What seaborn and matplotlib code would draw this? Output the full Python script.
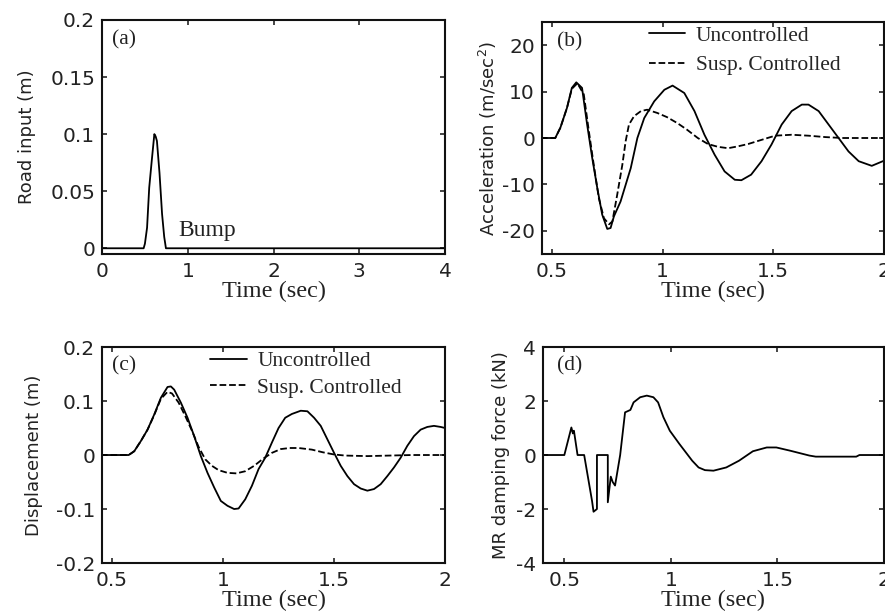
import numpy as np
import pandas as pd
import matplotlib
matplotlib.use('Agg')
import matplotlib.pyplot as plt
import seaborn as sns

# --- data ---
# (a) road bump input
t_road = [0.0, 0.485, 0.50, 0.525, 0.55, 0.58, 0.61, 0.625, 0.64, 0.67, 0.70, 0.725, 0.745, 4.0]
z_road = [0, 0, 0.004, 0.018, 0.053, 0.077, 0.1, 0.098, 0.094, 0.066, 0.03, 0.01, 0, 0]

# (b) body acceleration
t_acc_unc = [0.45, 0.515, 0.538, 0.568, 0.59, 0.61, 0.636, 0.659, 0.682, 0.705, 0.727, 0.75, 0.765,
             0.78, 0.81, 0.856, 0.886, 0.917, 0.962, 1.008, 1.045, 1.098, 1.144, 1.189, 1.235, 1.28,
             1.326, 1.356, 1.40, 1.447, 1.492, 1.538, 1.583, 1.629, 1.659, 1.705, 1.75, 1.795, 1.84,
             1.886, 1.945, 2.0]
acc_unc = [0, 0, 2.2, 6.5, 10.8, 12.0, 10.8, 2.9, -4.3, -10.8, -16.5, -19.6, -19.4,
           -16.9, -13.7, -6.5, 0, 4.3, 7.9, 10.4, 11.3, 9.7, 5.8, 0.7, -3.6, -7.2,
           -9.0, -9.1, -7.9, -5.0, -1.4, 2.9, 5.8, 7.2, 7.2, 5.8, 2.9, 0, -2.9,
           -5.0, -6.0, -4.9]
t_acc_ctl = [0.45, 0.515, 0.538, 0.568, 0.59, 0.615, 0.644, 0.667, 0.689, 0.712, 0.735, 0.758, 0.773,
             0.795, 0.818, 0.833, 0.848, 0.871, 0.902, 0.93, 0.976, 1.02, 1.067, 1.11, 1.159, 1.205,
             1.25, 1.296, 1.34, 1.386, 1.447, 1.508, 1.583, 1.659, 1.735, 1.811, 2.0]
acc_ctl = [0, 0, 2.2, 6.5, 10.6, 11.8, 9.4, 1.4, -5.8, -13.0, -17.3, -18.6, -18.0,
           -12.2, -5.8, -0.7, 2.9, 4.7, 5.8, 6.1, 5.4, 4.5, 3.2, 1.8, 0, -1.3,
           -1.9, -2.2, -1.8, -1.3, -0.4, 0.5, 0.7, 0.5, 0.2, 0, 0]

# (c) body displacement
t_dis_unc = [0.45, 0.575, 0.60, 0.63, 0.66, 0.69, 0.72, 0.75, 0.765, 0.78, 0.81, 0.84, 0.87, 0.90,
             0.93, 0.96, 0.99, 1.02, 1.05, 1.07, 1.10, 1.13, 1.16, 1.19, 1.22, 1.25, 1.28, 1.31,
             1.35, 1.38, 1.41, 1.44, 1.47, 1.50, 1.53, 1.56, 1.59, 1.62, 1.65, 1.68, 1.71, 1.74,
             1.77, 1.80, 1.83, 1.86, 1.89, 1.92, 1.95, 1.98, 2.0]
dis_unc = [0, 0, 0.007, 0.026, 0.047, 0.075, 0.106, 0.126, 0.127, 0.121, 0.097, 0.069, 0.035, -0.002,
           -0.033, -0.06, -0.085, -0.094, -0.1, -0.099, -0.082, -0.057, -0.026, -0.005, 0.023, 0.05, 0.069, 0.076,
           0.082, 0.081, 0.069, 0.054, 0.029, 0.004, -0.02, -0.039, -0.054, -0.062, -0.066, -0.063, -0.054, -0.039,
           -0.023, -0.005, 0.017, 0.035, 0.047, 0.052, 0.054, 0.052, 0.05]
t_dis_ctl = [0.45, 0.575, 0.60, 0.63, 0.66, 0.69, 0.72, 0.75, 0.77, 0.80, 0.83, 0.86, 0.89, 0.92,
             0.95, 0.98, 1.02, 1.06, 1.10, 1.14, 1.18, 1.22, 1.26, 1.30, 1.34, 1.40, 1.45, 1.50,
             1.55, 1.65, 1.75, 1.85, 2.0]
dis_ctl = [0, 0, 0.007, 0.026, 0.047, 0.074, 0.104, 0.117, 0.114, 0.097, 0.072, 0.045, 0.015, -0.008,
           -0.02, -0.028, -0.033, -0.034, -0.03, -0.02, -0.007, 0.004, 0.011, 0.013, 0.013, 0.01, 0.005, 0.001,
           -0.001, -0.002, -0.001, 0, 0]

# (d) MR damper force
t_force = [0.40, 0.50, 0.533, 0.54, 0.545, 0.562, 0.593, 0.63, 0.637, 0.653, 0.653, 0.704, 0.704,
           0.718, 0.727, 0.738, 0.762, 0.785, 0.81, 0.825, 0.856, 0.887, 0.918, 0.94, 0.965, 0.995,
           1.04, 1.07, 1.10, 1.13, 1.16, 1.20, 1.26, 1.32, 1.385, 1.45, 1.495, 1.56, 1.65, 1.68,
           1.87, 1.885, 2.0]
force = [0, 0, 1.02, 0.8, 0.9, 0, 0, -1.7, -2.1, -2.0, 0, 0, -1.75,
         -0.8, -1.0, -1.13, 0, 1.58, 1.67, 1.95, 2.14, 2.2, 2.14, 1.95, 1.4, 0.9,
         0.41, 0.1, -0.21, -0.46, -0.56, -0.58, -0.46, -0.21, 0.14, 0.28, 0.28, 0.16, -0.02, -0.06,
         -0.06, 0, 0]

legend_labels = ['Uncontrolled', 'Susp. Controlled']

# --- style ---
sns.set_style('ticks')
plt.rcParams['font.family'] = ['DejaVu Sans']
plt.rcParams['axes.unicode_minus'] = False
plt.rcParams['xtick.direction'] = 'in'
plt.rcParams['ytick.direction'] = 'in'
plt.rcParams['xtick.top'] = True
plt.rcParams['ytick.right'] = True
plt.rcParams['axes.linewidth'] = 1.5
plt.rcParams['xtick.major.width'] = 1.2
plt.rcParams['ytick.major.width'] = 1.2
plt.rcParams['xtick.major.size'] = 3.5
plt.rcParams['ytick.major.size'] = 3.5
plt.rcParams['axes.edgecolor'] = '#111111'

text_col = '#222222'
serif = ['Liberation Serif', 'DejaVu Serif']
tick_fs = 14.5
ylab_fs = 13
xlab_fs = 17.5
ann_fs = 15.5
leg_fs = 15.5

fig = plt.figure(figsize=(8.85, 6.12), dpi=100)
ax_a = fig.add_axes([0.1153, 0.585, 0.3876, 0.3824])
ax_b = fig.add_axes([0.6124, 0.585, 0.3864, 0.379])
ax_c = fig.add_axes([0.1153, 0.080, 0.3876, 0.353])
ax_d = fig.add_axes([0.6136, 0.080, 0.3852, 0.353])

line_kw = dict(color='black', lw=1.3, estimator=None, sort=False)

# (a)
sns.lineplot(x=t_road, y=z_road, ax=ax_a, **line_kw)
ax_a.set_xlim(0, 4)
ax_a.set_ylim(-0.005, 0.2)
ax_a.set_xticks([0, 1, 2, 3, 4])
ax_a.set_yticks([0, 0.05, 0.1, 0.15, 0.2])
ax_a.set_yticklabels(['0', '0.05', '0.1', '0.15', '0.2'])
ax_a.set_ylabel('Road input (m)', fontsize=ylab_fs, color=text_col, labelpad=10)
ax_a.text(0.03, 0.955, '(a)', transform=ax_a.transAxes, va='top', ha='left',
          family=serif, fontsize=ann_fs, color=text_col)
ax_a.text(0.89, 0.006, 'Bump', va='bottom', ha='left', family=serif, fontsize=17, color=text_col)

# (b)
sns.lineplot(x=t_acc_unc, y=acc_unc, ax=ax_b, label=legend_labels[0], **line_kw)
sns.lineplot(x=t_acc_ctl, y=acc_ctl, ax=ax_b, label=legend_labels[1], linestyle='--', **line_kw)
ax_b.set_xlim(0.455, 2.0)
ax_b.set_ylim(-25, 25)
ax_b.set_xticks([0.5, 1, 1.5, 2])
ax_b.set_xticklabels(['0.5', '1', '1.5', '2'])
ax_b.set_yticks([-20, -10, 0, 10, 20])
ax_b.set_ylabel('Acceleration (m/sec$^2$)', fontsize=ylab_fs, color=text_col, labelpad=2)
ax_b.text(0.045, 0.955, '(b)', transform=ax_b.transAxes, va='top', ha='left',
          family=serif, fontsize=ann_fs, color=text_col)
ax_b.legend(loc='upper left', bbox_to_anchor=(0.312, 0.985), frameon=False,
            prop={'family': serif, 'size': leg_fs}, handlelength=1.7, handletextpad=0.5,
            labelspacing=0.45, borderpad=0, borderaxespad=0)

# (c)
sns.lineplot(x=t_dis_unc, y=dis_unc, ax=ax_c, label=legend_labels[0], **line_kw)
sns.lineplot(x=t_dis_ctl, y=dis_ctl, ax=ax_c, label=legend_labels[1], linestyle='--', **line_kw)
ax_c.set_xlim(0.455, 2.0)
ax_c.set_ylim(-0.2, 0.2)
ax_c.set_xticks([0.5, 1, 1.5, 2])
ax_c.set_xticklabels(['0.5', '1', '1.5', '2'])
ax_c.set_yticks([-0.2, -0.1, 0, 0.1, 0.2])
ax_c.set_yticklabels(['-0.2', '-0.1', '0', '0.1', '0.2'])
ax_c.set_ylabel('Displacement (m)', fontsize=ylab_fs, color=text_col, labelpad=9)
ax_c.text(0.03, 0.955, '(c)', transform=ax_c.transAxes, va='top', ha='left',
          family=serif, fontsize=ann_fs, color=text_col)
ax_c.legend(loc='upper left', bbox_to_anchor=(0.315, 0.98), frameon=False,
            prop={'family': serif, 'size': leg_fs}, handlelength=1.7, handletextpad=0.5,
            labelspacing=0.3, borderpad=0, borderaxespad=0)

# (d)
sns.lineplot(x=t_force, y=force, ax=ax_d, **line_kw)
ax_d.set_xlim(0.40, 2.0)
ax_d.set_ylim(-4, 4)
ax_d.set_xticks([0.5, 1, 1.5, 2])
ax_d.set_xticklabels(['0.5', '1', '1.5', '2'])
ax_d.set_yticks([-4, -2, 0, 2, 4])
ax_d.set_ylabel('MR damping force (kN)', fontsize=ylab_fs, color=text_col, labelpad=4)
ax_d.text(0.04, 0.955, '(d)', transform=ax_d.transAxes, va='top', ha='left',
          family=serif, fontsize=ann_fs, color=text_col)

for ax in [ax_a, ax_b, ax_c, ax_d]:
    ax.set_xlabel('Time (sec)', family=serif, fontsize=xlab_fs, color=text_col, labelpad=0)
    ax.tick_params(labelsize=tick_fs, labelcolor=text_col)
    ax.tick_params(axis='x', pad=6)
    ax.tick_params(axis='y', pad=5)
    for sp in ax.spines.values():
        sp.set_visible(True)

fig.savefig('out.png', dpi=100)
plt.close(fig)
